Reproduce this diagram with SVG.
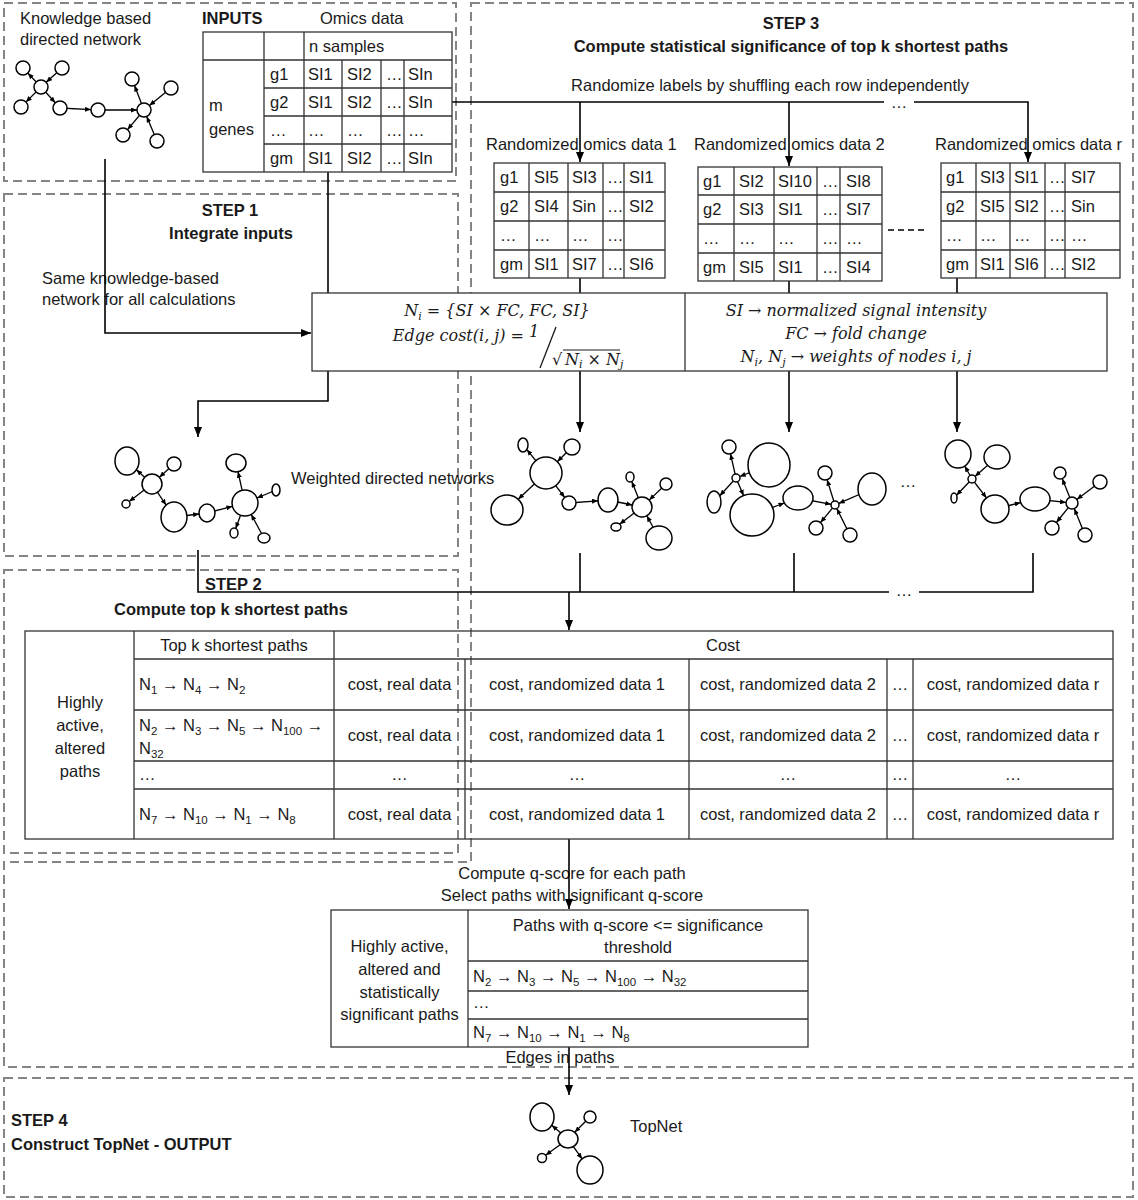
<svg xmlns="http://www.w3.org/2000/svg" width="1138" height="1200" viewBox="0 0 1138 1200">
<defs>
<style>
.t{font-family:"Liberation Sans",Arial,sans-serif;font-size:16.5px;fill:#1a1a1a}
.b{font-weight:bold}
.m{font-family:"DejaVu Serif",serif;font-style:italic;font-size:16px;fill:#1a1a1a}
.sb{font-size:11.5px}
.msb{font-size:11px}
.grid{fill:none;stroke:#333;stroke-width:1.3}
.box{fill:#fff;stroke:#333;stroke-width:1.3}
.dash{fill:none;stroke:#858585;stroke-width:2;stroke-dasharray:9 5}
.con{fill:none;stroke:#000;stroke-width:1.6}
.nd{fill:#fff;stroke:#000;stroke-width:1.5}
.ed{stroke:#000;stroke-width:1.3;fill:none}
</style>
<marker id="arr" viewBox="0 0 10 8" refX="10" refY="4" markerWidth="10" markerHeight="8" markerUnits="userSpaceOnUse" orient="auto"><path d="M0,0 L10,4 L0,8 z" fill="#000"/></marker>
<marker id="sa" viewBox="0 0 6 5" refX="6" refY="2.5" markerWidth="6" markerHeight="5" markerUnits="userSpaceOnUse" orient="auto"><path d="M0,0 L6,2.5 L0,5 z" fill="#000"/></marker>
</defs>
<rect width="1138" height="1200" fill="#fff"/>

<g id="regions">
<rect class="dash" x="4" y="3" width="452" height="178"/>
<rect class="dash" x="4" y="194" width="454" height="362"/>
<rect class="dash" x="4" y="570" width="454" height="283"/>
<path class="dash" d="M471,3 H1133 V1067 H4 V862 H471 Z"/>
<rect class="dash" x="4" y="1078" width="1129" height="119"/>
</g>

<g id="labels">
<text class="t" x="20" y="24" font-size="16">Knowledge based</text>
<text class="t" x="20" y="45" font-size="16">directed network</text>
<text class="t b" x="202" y="24">INPUTS</text>
<text class="t" x="320" y="24">Omics data</text>
<text class="t b" x="791" y="29" text-anchor="middle">STEP 3</text>
<text class="t b" x="791" y="52" text-anchor="middle" font-size="15.5">Compute statistical significance of top k shortest paths</text>
<text class="t" x="770" y="91" text-anchor="middle">Randomize labels by shuffling each row independently</text>
<text class="t" x="486" y="150">Randomized omics data 1</text>
<text class="t" x="694" y="150">Randomized omics data 2</text>
<text class="t" x="935" y="150">Randomized omics data r</text>
<text class="t b" x="230" y="216" text-anchor="middle">STEP 1</text>
<text class="t b" x="231" y="239" text-anchor="middle">Integrate inputs</text>
<text class="t" x="42" y="284" font-size="15.5">Same knowledge-based</text>
<text class="t" x="42" y="305" font-size="15.5">network for all calculations</text>
<text class="t" x="291" y="484" font-size="17">Weighted directed networks</text>
<text class="t b" x="205" y="590">STEP 2</text>
<text class="t b" x="231" y="615" text-anchor="middle">Compute top k shortest paths</text>
<text class="t" x="572" y="879" text-anchor="middle">Compute q-score for each path</text>
<text class="t" x="572" y="901" text-anchor="middle">Select paths with significant q-score</text>
<text class="t" x="560" y="1063" text-anchor="middle">Edges in paths</text>
<text class="t b" x="11" y="1126">STEP 4</text>
<text class="t b" x="11" y="1150">Construct TopNet - OUTPUT</text>
<text class="t" x="630" y="1132">TopNet</text>
</g>

<g id="connectors">
<path class="con" d="M105,159 V333 H311" marker-end="url(#arr)"/>
<path class="con" d="M328,172 V293"/>
<path class="con" d="M452,102 H884"/>
<path class="con" d="M914,102 H1028 V162" marker-end="url(#arr)"/>
<path class="con" d="M580,102 V162" marker-end="url(#arr)"/>
<path class="con" d="M789,102 V166" marker-end="url(#arr)"/>
<text class="t" x="899" y="108" text-anchor="middle" font-size="10">…</text>
<path class="con" d="M580,278 V293"/>
<path class="con" d="M789,281 V293"/>
<path class="con" d="M957,278 V293"/>
<path class="con" d="M328,371 V401 H198 V437" marker-end="url(#arr)"/>
<path class="con" d="M580,371 V432" marker-end="url(#arr)"/>
<path class="con" d="M789,371 V432" marker-end="url(#arr)"/>
<path class="con" d="M957,371 V432" marker-end="url(#arr)"/>
<path class="con" d="M198,550 V592 H889"/>
<path class="con" d="M919,592 H1033 V553"/>
<path class="con" d="M580,553 V592"/>
<path class="con" d="M794,553 V592"/>
<text class="t" x="904" y="596" text-anchor="middle" font-size="12">…</text>
<path class="con" d="M569,592 V630" marker-end="url(#arr)"/>
<path class="con" d="M569,839 V909" marker-end="url(#arr)"/>
<path class="con" d="M569,1047 V1095" marker-end="url(#arr)"/>
</g>

<g id="net-knowledge">
<g class="ed">
<line x1="41" y1="87" x2="27.8" y2="73.1" marker-end="url(#sa)"/>
<line x1="62" y1="68" x2="46.2" y2="82.3" marker-end="url(#sa)"/>
<line x1="41" y1="87" x2="25.9" y2="102.1" marker-end="url(#sa)"/>
<line x1="41" y1="87" x2="55.3" y2="102.8" marker-end="url(#sa)"/>
<line x1="60" y1="108" x2="91" y2="109.6" marker-end="url(#sa)"/>
<line x1="98" y1="110" x2="137" y2="110" marker-end="url(#sa)"/>
<line x1="144" y1="110" x2="134.5" y2="85.5" marker-end="url(#sa)"/>
<line x1="171" y1="88" x2="149.4" y2="105.6" marker-end="url(#sa)"/>
<line x1="144" y1="110" x2="127.5" y2="129.6" marker-end="url(#sa)"/>
<line x1="157" y1="141" x2="146.7" y2="116.5" marker-end="url(#sa)"/>
</g>
<g class="nd">
<circle cx="23" cy="68" r="7"/><circle cx="62" cy="68" r="7"/><circle cx="41" cy="87" r="7"/>
<circle cx="21" cy="107" r="7"/><circle cx="60" cy="108" r="7"/><circle cx="98" cy="110" r="7"/>
<circle cx="144" cy="110" r="7"/><circle cx="132" cy="79" r="7"/><circle cx="171" cy="88" r="7"/>
<circle cx="123" cy="135" r="7"/><circle cx="157" cy="141" r="7"/>
</g>
</g>

<g id="inputs-table">
<rect class="grid" x="203" y="32" width="249" height="140"/>
<path class="grid" d="M264,32 V172 M304,32 V172 M342,60 V172 M381,60 V172 M404,60 V172 M203,60 H452 M264,88 H452 M264,116 H452 M264,144 H452"/>
<text class="t" x="309" y="52">n samples</text>
<text class="t" x="209" y="111">m</text>
<text class="t" x="209" y="135">genes</text>
<g class="t">
<text x="270" y="80">g1</text><text x="308" y="80">SI1</text><text x="347" y="80">SI2</text><text x="386" y="80">…</text><text x="408" y="80">SIn</text>
<text x="270" y="108">g2</text><text x="308" y="108">SI1</text><text x="347" y="108">SI2</text><text x="386" y="108">…</text><text x="408" y="108">SIn</text>
<text x="270" y="136">…</text><text x="308" y="136">…</text><text x="347" y="136">…</text><text x="386" y="136">…</text><text x="408" y="136">…</text>
<text x="270" y="164">gm</text><text x="308" y="164">SI1</text><text x="347" y="164">SI2</text><text x="386" y="164">…</text><text x="408" y="164">SIn</text>
</g>
</g>

<g id="rand-table-1">
<rect class="grid" x="494" y="163" width="171" height="115"/>
<path class="grid" d="M529,163 V278 M568,163 V278 M603,163 V278 M624,163 V278 M494,192 H665 M494,221 H665 M494,250 H665"/>
<g class="t">
<text x="500" y="183">g1</text><text x="534" y="183">SI5</text><text x="572" y="183">SI3</text><text x="607" y="183">…</text><text x="629" y="183">SI1</text>
<text x="500" y="212">g2</text><text x="534" y="212">SI4</text><text x="572" y="212">Sin</text><text x="607" y="212">…</text><text x="629" y="212">SI2</text>
<text x="500" y="241">…</text><text x="534" y="241">…</text><text x="572" y="241">…</text><text x="607" y="241">…</text>
<text x="500" y="270">gm</text><text x="534" y="270">SI1</text><text x="572" y="270">SI7</text><text x="607" y="270">…</text><text x="629" y="270">SI6</text>
</g>
</g>

<g id="rand-table-2">
<rect class="grid" x="698" y="167" width="184" height="114"/>
<path class="grid" d="M734,167 V281 M774,167 V281 M817,167 V281 M840,167 V281 M698,195 H882 M698,224 H882 M698,253 H882"/>
<g class="t">
<text x="703" y="187">g1</text><text x="739" y="187">SI2</text><text x="778" y="187">SI10</text><text x="822" y="187">…</text><text x="846" y="187">SI8</text>
<text x="703" y="215">g2</text><text x="739" y="215">SI3</text><text x="778" y="215">SI1</text><text x="822" y="215">…</text><text x="846" y="215">SI7</text>
<text x="703" y="244">…</text><text x="739" y="244">…</text><text x="778" y="244">…</text><text x="822" y="244">…</text><text x="846" y="244">…</text>
<text x="703" y="273">gm</text><text x="739" y="273">SI5</text><text x="778" y="273">SI1</text><text x="822" y="273">…</text><text x="846" y="273">SI4</text>
</g>
</g>

<line x1="888" y1="230" x2="926" y2="230" stroke="#000" stroke-width="1.5" stroke-dasharray="6 4"/>

<g id="rand-table-r">
<rect class="grid" x="941" y="163" width="179" height="115"/>
<path class="grid" d="M976,163 V278 M1010,163 V278 M1045,163 V278 M1065,163 V278 M941,192 H1120 M941,221 H1120 M941,250 H1120"/>
<g class="t">
<text x="946" y="183">g1</text><text x="980" y="183">SI3</text><text x="1014" y="183">SI1</text><text x="1049" y="183">…</text><text x="1071" y="183">SI7</text>
<text x="946" y="212">g2</text><text x="980" y="212">SI5</text><text x="1014" y="212">SI2</text><text x="1049" y="212">…</text><text x="1071" y="212">Sin</text>
<text x="946" y="241">…</text><text x="980" y="241">…</text><text x="1014" y="241">…</text><text x="1049" y="241">…</text><text x="1071" y="241">…</text>
<text x="946" y="270">gm</text><text x="980" y="270">SI1</text><text x="1014" y="270">SI6</text><text x="1049" y="270">…</text><text x="1071" y="270">SI2</text>
</g>
</g>

<g id="formula-box">
<rect class="box" x="312" y="293" width="795" height="78"/>
<line class="grid" x1="685" y1="293" x2="685" y2="371"/>
<text class="m" x="497" y="316" text-anchor="middle">N<tspan class="msb" dy="4">i</tspan><tspan dy="-4"> = {SI × FC, FC, SI}</tspan></text>
<text class="m" x="524" y="341" text-anchor="end">Edge cost(i, j) =</text>
<text class="m" x="529" y="337" font-style="normal">1</text>
<line x1="556" y1="327" x2="540" y2="368" stroke="#1a1a1a" stroke-width="1.3"/>
<text class="m" x="552" y="365" font-style="normal">√</text>
<line x1="563" y1="350" x2="620" y2="350" stroke="#1a1a1a" stroke-width="1.1"/>
<text class="m" x="565" y="365">N<tspan class="msb" dy="3">i</tspan><tspan dy="-3"> × N</tspan><tspan class="msb" dy="3">j</tspan></text>
<text class="m" x="856" y="316" text-anchor="middle">SI  → normalized signal intensity</text>
<text class="m" x="856" y="339" text-anchor="middle">FC  → fold change</text>
<text class="m" x="856" y="362" text-anchor="middle">N<tspan class="msb" dy="4">i</tspan><tspan dy="-4">, N</tspan><tspan class="msb" dy="4">j</tspan><tspan dy="-4"> → weights of nodes i, j</tspan></text>
</g>

<g id="net-weighted-real">
<g class="ed">
<line x1="152" y1="484" x2="136.4" y2="469.7" marker-end="url(#sa)"/>
<line x1="174" y1="464" x2="159.4" y2="477.3" marker-end="url(#sa)"/>
<line x1="152" y1="484" x2="129.2" y2="501.6" marker-end="url(#sa)"/>
<line x1="152" y1="484" x2="166.1" y2="505.1" marker-end="url(#sa)"/>
<line x1="174" y1="517" x2="199.1" y2="514" marker-end="url(#sa)"/>
<line x1="207" y1="513" x2="232.4" y2="506.3" marker-end="url(#sa)"/>
<line x1="245" y1="503" x2="238" y2="471.8" marker-end="url(#sa)"/>
<line x1="276" y1="490" x2="257" y2="498" marker-end="url(#sa)"/>
<line x1="245" y1="503" x2="235.7" y2="528.5" marker-end="url(#sa)"/>
<line x1="264" y1="538" x2="251.2" y2="514.4" marker-end="url(#sa)"/>
</g>
<g class="nd">
<ellipse cx="127" cy="461" rx="12" ry="14"/><circle cx="174" cy="464" r="7"/><circle cx="152" cy="484" r="10"/>
<circle cx="126" cy="504" r="4"/><ellipse cx="174" cy="517" rx="13" ry="15"/><ellipse cx="207" cy="513" rx="8" ry="9"/>
<circle cx="245" cy="503" r="13"/><ellipse cx="236" cy="463" rx="10" ry="9"/><ellipse cx="276" cy="490" rx="4" ry="6"/>
<ellipse cx="234" cy="533" rx="4" ry="5"/><ellipse cx="264" cy="538" rx="6" ry="5"/>
</g>
</g>

<g id="net-weighted-rand-1">
<g class="ed">
<line x1="546" y1="473" x2="526.8" y2="449.6" marker-end="url(#sa)"/>
<line x1="572" y1="447" x2="557.3" y2="461.7" marker-end="url(#sa)"/>
<line x1="546" y1="473" x2="518.2" y2="499.3" marker-end="url(#sa)"/>
<line x1="546" y1="473" x2="564.7" y2="497.4" marker-end="url(#sa)"/>
<line x1="569" y1="503" x2="598" y2="500.8" marker-end="url(#sa)"/>
<line x1="608" y1="500" x2="632.2" y2="505" marker-end="url(#sa)"/>
<line x1="642" y1="507" x2="631.8" y2="481.5" marker-end="url(#sa)"/>
<line x1="666" y1="484" x2="649.2" y2="500.1" marker-end="url(#sa)"/>
<line x1="642" y1="507" x2="619.6" y2="524.2" marker-end="url(#sa)"/>
<line x1="659" y1="538" x2="646.8" y2="515.8" marker-end="url(#sa)"/>
</g>
<g class="nd">
<ellipse cx="523" cy="445" rx="5" ry="7"/><circle cx="572" cy="447" r="8"/><circle cx="546" cy="473" r="16"/>
<ellipse cx="507" cy="510" rx="16" ry="15"/><circle cx="569" cy="503" r="7"/><ellipse cx="608" cy="500" rx="10" ry="12"/>
<circle cx="642" cy="507" r="10"/><ellipse cx="630" cy="477" rx="4" ry="5"/><circle cx="666" cy="484" r="6"/>
<ellipse cx="616" cy="527" rx="5" ry="4"/><ellipse cx="659" cy="538" rx="13" ry="12"/>
</g>
</g>

<g id="net-weighted-rand-2">
<g class="ed">
<line x1="736" y1="478" x2="730.5" y2="453.8" marker-end="url(#sa)"/>
<line x1="769" y1="465" x2="739.7" y2="476.5" marker-end="url(#sa)"/>
<line x1="736" y1="478" x2="719.8" y2="495.7" marker-end="url(#sa)"/>
<line x1="736" y1="478" x2="743.6" y2="495.6" marker-end="url(#sa)"/>
<line x1="752" y1="515" x2="784.4" y2="503" marker-end="url(#sa)"/>
<line x1="798" y1="498" x2="831.1" y2="504.3" marker-end="url(#sa)"/>
<line x1="835" y1="505" x2="827.1" y2="479.7" marker-end="url(#sa)"/>
<line x1="872" y1="489" x2="838.7" y2="503.4" marker-end="url(#sa)"/>
<line x1="835" y1="505" x2="820.5" y2="522.6" marker-end="url(#sa)"/>
<line x1="850" y1="535" x2="836.8" y2="508.6" marker-end="url(#sa)"/>
</g>
<g class="nd">
<circle cx="729" cy="447" r="7"/><ellipse cx="769" cy="465" rx="21" ry="22"/><circle cx="736" cy="478" r="4"/>
<ellipse cx="714" cy="502" rx="7" ry="11"/><ellipse cx="752" cy="515" rx="22" ry="21"/><ellipse cx="798" cy="498" rx="15" ry="12"/>
<circle cx="835" cy="505" r="4"/><circle cx="825" cy="473" r="7"/><ellipse cx="872" cy="489" rx="14" ry="16"/>
<circle cx="816" cy="528" r="7"/><circle cx="850" cy="535" r="7"/>
</g>
<text class="t" x="908" y="487" text-anchor="middle" font-size="12">…</text>
</g>

<g id="net-weighted-rand-r">
<g class="ed">
<line x1="972" y1="479" x2="964.7" y2="466" marker-end="url(#sa)"/>
<line x1="997" y1="457" x2="975" y2="476.4" marker-end="url(#sa)"/>
<line x1="972" y1="479" x2="956.5" y2="495.3" marker-end="url(#sa)"/>
<line x1="972" y1="479" x2="986.5" y2="497.9" marker-end="url(#sa)"/>
<line x1="995" y1="509" x2="1020.7" y2="502.6" marker-end="url(#sa)"/>
<line x1="1035" y1="499" x2="1066" y2="502.4" marker-end="url(#sa)"/>
<line x1="1072" y1="503" x2="1062.2" y2="478.6" marker-end="url(#sa)"/>
<line x1="1100" y1="482" x2="1076.8" y2="499.4" marker-end="url(#sa)"/>
<line x1="1072" y1="503" x2="1056.4" y2="522.5" marker-end="url(#sa)"/>
<line x1="1085" y1="535" x2="1074.3" y2="508.6" marker-end="url(#sa)"/>
</g>
<g class="nd">
<ellipse cx="958" cy="454" rx="13" ry="14"/><ellipse cx="997" cy="457" rx="13" ry="12"/><circle cx="972" cy="479" r="4"/>
<ellipse cx="954" cy="498" rx="3" ry="5"/><circle cx="995" cy="509" r="14"/><ellipse cx="1035" cy="499" rx="15" ry="12"/>
<circle cx="1072" cy="503" r="6"/><circle cx="1060" cy="473" r="6"/><circle cx="1100" cy="482" r="7"/>
<circle cx="1052" cy="528" r="7"/><circle cx="1085" cy="535" r="7"/>
</g>
</g>

<g id="paths-table">
<rect class="grid" x="25" y="631" width="1088" height="208"/>
<path class="grid" d="M134,631 V839 M334,631 V839 M465,659 V839 M689,659 V839 M887,659 V839 M913,659 V839 M134,659 H1113 M134,710 H1113 M134,761 H1113 M134,789 H1113"/>
<text class="t" x="234" y="651" text-anchor="middle">Top k shortest paths</text>
<text class="t" x="723" y="651" text-anchor="middle">Cost</text>
<g class="t" text-anchor="middle">
<text x="80" y="708">Highly</text><text x="80" y="731">active,</text><text x="80" y="754">altered</text><text x="80" y="777">paths</text>
<text x="399.5" y="690">cost, real data</text><text x="577" y="690">cost, randomized data 1</text><text x="788" y="690">cost, randomized data 2</text><text x="900" y="690">…</text><text x="1013" y="690">cost, randomized data r</text>
<text x="399.5" y="741">cost, real data</text><text x="577" y="741">cost, randomized data 1</text><text x="788" y="741">cost, randomized data 2</text><text x="900" y="741">…</text><text x="1013" y="741">cost, randomized data r</text>
<text x="399.5" y="780">…</text><text x="577" y="780">…</text><text x="788" y="780">…</text><text x="900" y="780">…</text><text x="1013" y="780">…</text>
<text x="399.5" y="820">cost, real data</text><text x="577" y="820">cost, randomized data 1</text><text x="788" y="820">cost, randomized data 2</text><text x="900" y="820">…</text><text x="1013" y="820">cost, randomized data r</text>
</g>
<text class="t" x="139" y="690">N<tspan class="sb" dy="4">1</tspan><tspan dy="-4"> → N</tspan><tspan class="sb" dy="4">4</tspan><tspan dy="-4"> → N</tspan><tspan class="sb" dy="4">2</tspan></text>
<text class="t" x="139" y="731">N<tspan class="sb" dy="4">2</tspan><tspan dy="-4"> → N</tspan><tspan class="sb" dy="4">3</tspan><tspan dy="-4"> → N</tspan><tspan class="sb" dy="4">5</tspan><tspan dy="-4"> → N</tspan><tspan class="sb" dy="4">100</tspan><tspan dy="-4"> →</tspan></text>
<text class="t" x="139" y="754">N<tspan class="sb" dy="4">32</tspan></text>
<text class="t" x="139" y="780">…</text>
<text class="t" x="139" y="820">N<tspan class="sb" dy="4">7</tspan><tspan dy="-4"> → N</tspan><tspan class="sb" dy="4">10</tspan><tspan dy="-4"> → N</tspan><tspan class="sb" dy="4">1</tspan><tspan dy="-4"> → N</tspan><tspan class="sb" dy="4">8</tspan></text>
</g>

<g id="significant-table">
<rect class="grid" x="331" y="910" width="477" height="137"/>
<path class="grid" d="M468,910 V1047 M468,961 H808 M468,991 H808 M468,1019 H808"/>
<g class="t" text-anchor="middle">
<text x="399.5" y="952">Highly active,</text><text x="399.5" y="975">altered and</text><text x="399.5" y="998">statistically</text><text x="399.5" y="1020">significant paths</text>
<text x="638" y="931">Paths with q-score &lt;= significance</text><text x="638" y="953">threshold</text>
</g>
<text class="t" x="473" y="982">N<tspan class="sb" dy="4">2</tspan><tspan dy="-4"> → N</tspan><tspan class="sb" dy="4">3</tspan><tspan dy="-4"> → N</tspan><tspan class="sb" dy="4">5</tspan><tspan dy="-4"> → N</tspan><tspan class="sb" dy="4">100</tspan><tspan dy="-4"> → N</tspan><tspan class="sb" dy="4">32</tspan></text>
<text class="t" x="473" y="1008">…</text>
<text class="t" x="473" y="1038">N<tspan class="sb" dy="4">7</tspan><tspan dy="-4"> → N</tspan><tspan class="sb" dy="4">10</tspan><tspan dy="-4"> → N</tspan><tspan class="sb" dy="4">1</tspan><tspan dy="-4"> → N</tspan><tspan class="sb" dy="4">8</tspan></text>
</g>

<g id="net-topnet">
<g class="ed">
<line x1="568" y1="1139" x2="551.7" y2="1125.2" marker-end="url(#sa)"/>
<line x1="590" y1="1117" x2="574.7" y2="1132.3" marker-end="url(#sa)"/>
<line x1="568" y1="1139" x2="545.6" y2="1155.3" marker-end="url(#sa)"/>
<line x1="568" y1="1139" x2="582.1" y2="1158.9" marker-end="url(#sa)"/>
</g>
<g class="nd">
<ellipse cx="542" cy="1117" rx="12" ry="14"/><circle cx="590" cy="1117" r="6"/><ellipse cx="568" cy="1139" rx="10" ry="9"/>
<circle cx="542" cy="1158" r="4.5"/><ellipse cx="590" cy="1170" rx="13" ry="14"/>
</g>
</g>
</svg>
